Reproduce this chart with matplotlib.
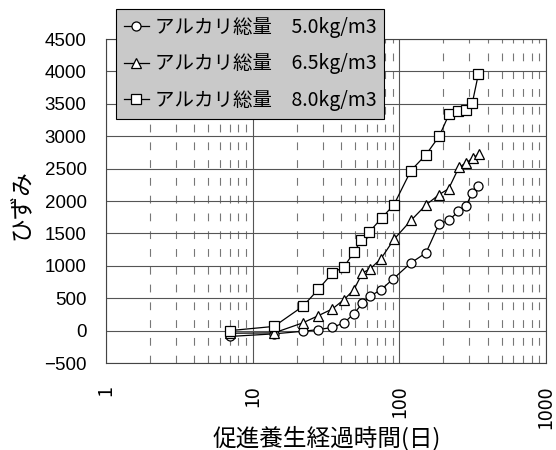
import matplotlib
matplotlib.use("Agg")
import matplotlib.pyplot as plt
from matplotlib.ticker import LogLocator, FixedLocator, NullFormatter

plt.rcParams['font.family'] = ['Noto Sans CJK JP', 'DejaVu Sans']

# --- data ---
days_a = [7, 14, 22, 28, 35, 42, 49, 56, 63, 75, 91, 120, 152, 187, 217, 253, 284, 315, 346]
strain_a = [-90, -50, -10, 15, 50, 120, 260, 420, 530, 630, 800, 1045, 1200, 1650, 1700, 1840, 1920, 2130, 2230]

days_b = [7, 14, 22, 28, 35, 42, 49, 56, 63, 75, 92, 120, 152, 187, 217, 255, 286, 318, 350]
strain_b = [-40, -35, 120, 230, 335, 480, 630, 890, 950, 1110, 1410, 1700, 1940, 2100, 2190, 2520, 2590, 2665, 2730]

days_c = [7, 14, 22, 28, 35, 42, 49, 55, 62, 76, 92, 120, 152, 187, 219, 253, 284, 315, 346]
strain_c = [0, 65, 375, 635, 890, 985, 1210, 1395, 1515, 1740, 1945, 2470, 2715, 3000, 3345, 3395, 3410, 3520, 3960]

labels = ["アルカリ総量\u30005.0kg/m3", "アルカリ総量\u30006.5kg/m3", "アルカリ総量\u30008.0kg/m3"]
markers = ["o", "^", "s"]

y_ticks = list(range(-500, 4501, 500))
x_ticks = [1, 10, 100, 1000]

fig = plt.figure(figsize=(5.56, 4.5), dpi=100)
ax = fig.add_axes([0.1906, 0.1933, 0.7914, 0.72])

series = [(days_a, strain_a), (days_b, strain_b), (days_c, strain_c)]
for (d, s), m, lab in zip(series, markers, labels):
    ax.plot(d, s, color="black", linewidth=0.9, marker=m, markersize=6.5,
            markerfacecolor="white", markeredgecolor="black", markeredgewidth=0.9,
            label=lab, zorder=3)

ax.set_xscale("log")
ax.set_xlim(1, 1000)
ax.set_ylim(-500, 4500)
ax.set_yticks(y_ticks)
ax.xaxis.set_major_locator(FixedLocator(x_ticks))
ax.xaxis.set_minor_locator(LogLocator(base=10, subs=range(2, 10)))
ax.xaxis.set_minor_formatter(NullFormatter())
ax.set_xticklabels([str(t) for t in x_ticks], rotation=90, fontsize=14,
                   va="top", ha="center")
ax.set_yticklabels([str(t).replace("-", "\u2212") for t in y_ticks],
                   fontsize=13.5, family="Liberation Sans")

ax.tick_params(axis="both", which="both", length=0)
ax.tick_params(axis="x", pad=16)
ax.tick_params(axis="y", pad=14)

ax.grid(True, which="major", axis="both", color="#555555", linewidth=0.8)
ax.grid(True, which="minor", axis="x", color="#777777", linewidth=0.8,
        linestyle=(0, (7, 9)))
ax.set_axisbelow(True)
for sp in ax.spines.values():
    sp.set_color("#444444")
    sp.set_linewidth(0.8)

# axis titles placed by figure coordinates
fig.text(327 / 556, 1 - 438 / 450, "促進養生経過時間(日)", fontsize=17,
         ha="center", va="center")
fig.text(22 / 556, 1 - 205 / 450, "ひずみ", fontsize=17, rotation=90,
         ha="center", va="center")

leg = fig.legend(loc="upper left", bbox_to_anchor=(116 / 556, 1 - 9 / 450), fontsize=14,
                 handlelength=1.3, handletextpad=0.3, labelspacing=0.8,
                 borderpad=0.4, borderaxespad=0, fancybox=False, framealpha=1)
frame = leg.get_frame()
frame.set_facecolor("#c9c9c9")
frame.set_edgecolor("black")
frame.set_linewidth(0.8)

plt.savefig("out.png", dpi=100)
